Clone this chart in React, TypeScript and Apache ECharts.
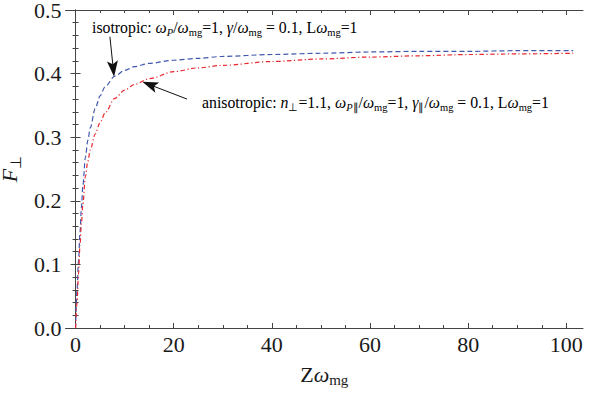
import React, { useEffect, useRef } from "react";
import * as echarts from "echarts";

const xValues = [0, 0.3, 0.6, 0.9, 1.2, 1.5, 2, 2.5, 3, 4, 5, 6, 8, 10, 12, 15, 20, 25, 30, 40, 50, 60, 70, 80, 90, 101.4];
const isotropic = [0, 0.06, 0.105, 0.15, 0.19, 0.225, 0.268, 0.295, 0.315, 0.345, 0.365, 0.379, 0.396, 0.405, 0.411, 0.416, 0.421, 0.424, 0.427, 0.43, 0.432, 0.434, 0.435, 0.435, 0.436, 0.436];
const anisotropic = [0, 0.04, 0.085, 0.13, 0.165, 0.195, 0.238, 0.262, 0.28, 0.305, 0.323, 0.338, 0.361, 0.374, 0.383, 0.392, 0.403, 0.409, 0.413, 0.419, 0.423, 0.426, 0.428, 0.43, 0.431, 0.432];
const xMajorTicks = [0, 20, 40, 60, 80, 100];
const xMinorTicks = [5, 10, 15, 25, 30, 35, 45, 50, 55, 65, 70, 75, 85, 90, 95];
const isoArrow = [[7.0, 0.458], [7.85, 0.395]];
const anisoArrow = [[22.7, 0.36], [13.6, 0.387]];

const FONT = "Liberation Serif";
const FRAME = "#444";
const BLUE = "#4157ad";
const RED = "#e8282e";

function richStyles(color: string, size: number, sub: number) {
  return {
    n: { fontFamily: FONT, fontSize: size, color, lineHeight: size + 2 },
    i: { fontFamily: FONT, fontSize: size, color, fontStyle: "italic", lineHeight: size + 2 },
    s: { fontFamily: FONT, fontSize: sub, color, lineHeight: sub, padding: [Math.round(size * 0.55), 0, 0, 0] },
    si: { fontFamily: FONT, fontSize: sub, color, fontStyle: "italic", lineHeight: sub, padding: [Math.round(size * 0.55), 0, 0, 0] },
  };
}

export default function App() {
  const ref = useRef<HTMLDivElement>(null);
  useEffect(() => {
    if (!ref.current) return;
    const chart = echarts.init(ref.current, null, { renderer: "svg" });
    const blueData = xValues.map((x, k) => [x, isotropic[k]]);
    const redData = xValues.map((x, k) => [x, anisotropic[k]]);
    const tickLabel = { fontFamily: FONT, fontSize: 22, color: "#1a1a1a", lineHeight: 18 };
    const baseX = { type: "value", min: -2.05, max: 103.4, splitLine: { show: false } };
    const baseY = { type: "value", min: 0, max: 0.5, interval: 0.1, splitLine: { show: false } };
    const line = { show: true, lineStyle: { color: FRAME, width: 1 } };
    chart.setOption({
      animation: false,
      textStyle: { fontFamily: FONT },
      grid: { left: 65.5, right: 8, top: 10, bottom: 68, containLabel: false, outerBoundsMode: "none" },
      xAxis: [
        {
          ...baseX, position: "bottom", axisLine: line,
          axisTick: { show: true, inside: true, length: 5, customValues: xMajorTicks, lineStyle: { color: FRAME } },
          axisLabel: { ...tickLabel, margin: 7, customValues: xMajorTicks, formatter: (v: number) => String(v) },
          name: "{n|Z}{i|ω}{s|mg}", nameLocation: "middle", nameGap: 34,
          nameTextStyle: { rich: richStyles("#1a1a1a", 22, 15) },
        },
        {
          ...baseX, position: "bottom", axisLine: { show: false },
          axisTick: { show: true, inside: true, length: 3, customValues: xMinorTicks, lineStyle: { color: FRAME } },
          axisLabel: { show: false },
        },
        {
          ...baseX, position: "top", axisLine: line,
          axisTick: { show: true, inside: true, length: 5, customValues: xMajorTicks, lineStyle: { color: FRAME } },
          axisLabel: { show: false },
        },
        {
          ...baseX, position: "top", axisLine: { show: false },
          axisTick: { show: true, inside: true, length: 3, customValues: xMinorTicks, lineStyle: { color: FRAME } },
          axisLabel: { show: false },
        },
      ],
      yAxis: [
        {
          ...baseY, position: "left", axisLine: line,
          axisTick: { show: true, inside: true, length: 5, lineStyle: { color: FRAME } },
          minorTick: { show: true, splitNumber: 5, length: 3, lineStyle: { color: FRAME } },
          axisLabel: { ...tickLabel, margin: 4, formatter: (v: number) => v.toFixed(1) },
          name: "{i|F}{s|⊥}", nameLocation: "middle", nameGap: 38, nameRotate: 90,
          nameTextStyle: { rich: richStyles("#1a1a1a", 22, 15) },
        },
        {
          ...baseY, position: "right", axisLine: line,
          axisTick: { show: true, inside: true, length: 5, lineStyle: { color: FRAME } },
          minorTick: { show: true, splitNumber: 5, length: 3, lineStyle: { color: FRAME } },
          axisLabel: { show: false },
        },
      ],
      series: [
        {
          name: "isotropic", type: "line", data: blueData, showSymbol: false, smooth: 0.3, smoothMonotone: "x",
          lineStyle: { color: BLUE, width: 1.2, type: [5, 3] },
        },
        {
          name: "anisotropic", type: "line", data: redData, showSymbol: false, smooth: 0.3, smoothMonotone: "x",
          lineStyle: { color: RED, width: 1.2, type: [4.5, 2.5, 1.2, 2.5] },
        },
      ],
    });

    const arrowGraphics = (pts: number[][]) => {
      const a = chart.convertToPixel({ gridIndex: 0 }, pts[0]) as number[];
      const b = chart.convertToPixel({ gridIndex: 0 }, pts[1]) as number[];
      const dx = b[0] - a[0];
      const dy = b[1] - a[1];
      const len = Math.hypot(dx, dy) || 1;
      const ux = dx / len;
      const uy = dy / len;
      const nx = -uy;
      const ny = ux;
      const L = 16;
      const W = 5.5;
      const notch = 3.5;
      const base = [b[0] - L * ux, b[1] - L * uy];
      const inner = [b[0] - (L - notch) * ux, b[1] - (L - notch) * uy];
      return [
        {
          type: "line", silent: true,
          shape: { x1: a[0], y1: a[1], x2: inner[0], y2: inner[1] },
          style: { stroke: "#111", lineWidth: 1 },
        },
        {
          type: "polygon", silent: true,
          shape: {
            points: [
              [b[0], b[1]],
              [base[0] + W * nx, base[1] + W * ny],
              [inner[0], inner[1]],
              [base[0] - W * nx, base[1] - W * ny],
            ],
          },
          style: { fill: "#111" },
        },
      ];
    };

    chart.setOption({
      graphic: [
        {
          type: "text", left: 92, top: 18,
          style: {
            text: "{n|isotropic: }{i|ω}{si|P}{n|/}{i|ω}{s|mg}{n|=1, }{i|γ}{n|/}{i|ω}{s|mg}{n| = 0.1, L}{i|ω}{s|mg}{n|=1}",
            rich: richStyles(BLUE, 15.8, 10.5),
          },
        },
        {
          type: "text", left: 202, top: 93,
          style: {
            text: "{n|anisotropic: }{i|n}{s|⊥}{n|=1.1, }{i|ω}{si|P}{s|∥}{n|/}{i|ω}{s|mg}{n|=1, }{i|γ}{s|∥}{n|/}{i|ω}{s|mg}{n| = 0.1, L}{i|ω}{s|mg}{n|=1}",
            rich: richStyles(RED, 15.8, 10.5),
          },
        },
        ...arrowGraphics(isoArrow),
        ...arrowGraphics(anisoArrow),
      ],
    });
    return () => chart.dispose();
  }, []);
  return <div ref={ref} style={{ position: "absolute", left: 0, top: 0, width: 591, height: 396 }} />;
}
